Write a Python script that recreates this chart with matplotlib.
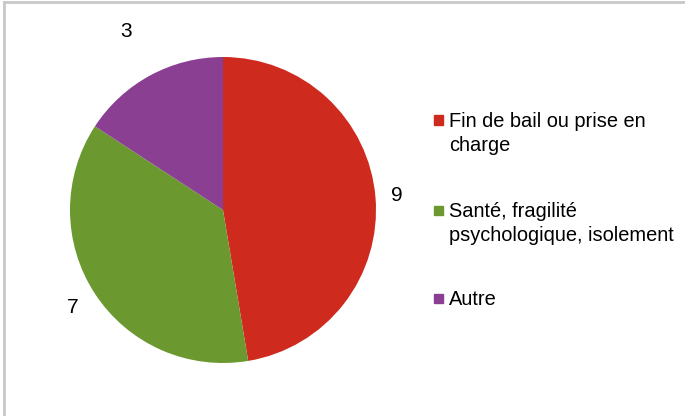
import numpy as np
import matplotlib.pyplot as plt
from matplotlib.patches import Rectangle

categories = ["Fin de bail ou prise en\ncharge",
              "Santé, fragilité\npsychologique, isolement",
              "Autre"]
values = [9, 7, 3]
colors = ["#CF2A1E", "#6B9930", "#8B3F93"]
label_dist = [1.14, 1.17, 1.33]

W, H = 685, 416
fig = plt.figure(figsize=(W / 100, H / 100), dpi=100)
plt.rcParams['font.family'] = ['Liberation Sans', 'DejaVu Sans']

# pie centre (223, 210), radius 153 px
cx, cy, r = 223, 210, 153
ax = fig.add_axes([(cx - r) / W, 1 - (cy + r) / H, 2 * r / W, 2 * r / H])
wedges, _ = ax.pie(values, colors=colors, startangle=90, counterclock=False,
                   radius=1.0, wedgeprops=dict(linewidth=0))
ax.set_xlim(-1, 1)
ax.set_ylim(-1, 1)
ax.set_aspect('equal')

for w, v, d in zip(wedges, values, label_dist):
    ang = np.deg2rad((w.theta1 + w.theta2) / 2)
    ax.text(d * np.cos(ang), d * np.sin(ang), str(v), ha='center', va='center',
            fontsize=15, clip_on=False)

# legend drawn by hand
leg_y = [120, 210, 298]
for lab, col, y in zip(categories, colors, leg_y):
    fig.patches.append(Rectangle((434 / W, 1 - (y + 4.5) / H), 9 / W, 9 / H,
                                 transform=fig.transFigure, color=col))
    fig.text(449 / W, 1 - (y - 8) / H, lab, ha='left', va='top',
             fontsize=14.4, linespacing=1.35)

# outer frame
fig.add_artist(plt.Line2D([4 / W, 4 / W], [0, 1 - 2 / H], color='#C8C8C8',
                          lw=2, transform=fig.transFigure))
fig.add_artist(plt.Line2D([4 / W, 1], [1 - 2 / H, 1 - 2 / H], color='#C8C8C8',
                          lw=2, transform=fig.transFigure))

fig.savefig("out.png", dpi=100)
